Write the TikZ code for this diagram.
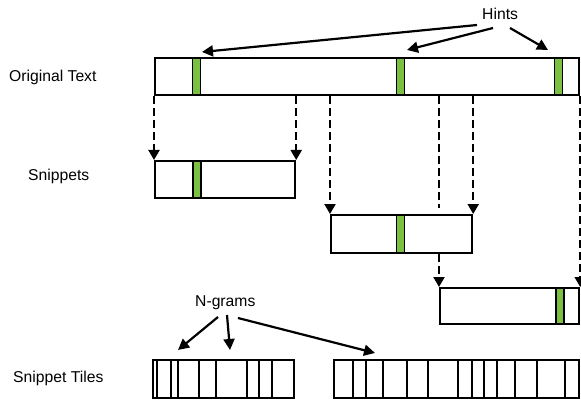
\documentclass[tikz,border=0pt]{standalone}
\usepackage{fontspec}
\setmainfont{Liberation Sans}
\usetikzlibrary{arrows.meta,calc}
\definecolor{hintgreen}{RGB}{122,193,66}
\tikzset{
  lbl/.style={inner sep=0pt, font=\fontsize{15.7}{18}\selectfont, anchor=base west},
  bar/.style={draw=black, line width=2.2pt, fill=white, inner sep=0pt, anchor=north west},
  hint/.style={draw=black, line width=1.8pt, fill=hintgreen, inner sep=0pt, anchor=north west, minimum width=8pt},
  divider/.style={draw=black, line width=2.2pt},
  dasharrow/.style={line width=2.2pt, dash pattern=on 8pt off 4pt, -{Triangle[length=10pt,width=11pt]}},
  dashplain/.style={line width=2.2pt, dash pattern=on 8pt off 4pt},
  pointer/.style={line width=2.2pt, -{Triangle[length=11pt,width=11pt]}}
}
\begin{document}
\begin{tikzpicture}[x=1pt,y=-1pt]
\useasboundingbox (0,0) rectangle (581,401);

% labels
\node[lbl] (lorig) at (9,82) {Original Text};
\node[lbl] (lsnip) at (28,180) {Snippets};
\node[lbl] (ltile) at (13,382) {Snippet Tiles};
\node[lbl] (lgram) at (195,306) {N-grams};
\node[lbl] (lhint) at (482,20) {Hints};

% the full text and its snippets
\node[bar, minimum width=424pt, minimum height=37pt] (orig) at (154,57) {};
\node[bar, minimum width=140pt, minimum height=37pt] (s1) at (154,160) {};
\node[bar, minimum width=141pt, minimum height=38pt] (s2) at (330,214) {};
\node[bar, minimum width=139pt, minimum height=36pt] (s3) at (439,287) {};

% hint markers
\node[hint, minimum height=37pt] (h1) at (191.5,57) {};
\node[hint, minimum height=37pt] (h2) at (395.5,57) {};
\node[hint, minimum height=37pt] (h3) at (553.5,57) {};
\node[hint, minimum height=37pt] (g1) at (192,160) {};
\node[hint, minimum height=38pt] (g2) at (395.5,214) {};
\node[hint, minimum height=36pt] (g3) at (555,287) {};

% snippet extraction
\draw[dasharrow] (s1.north west |- orig.south) -- (s1.north west);
\draw[dasharrow] (s1.north east |- orig.south) -- (s1.north east);
\draw[dasharrow] (s2.north west |- orig.south) -- (s2.north west);
\draw[dasharrow] (s2.north east |- orig.south) -- (s2.north east);
\coordinate (c3top) at (439,208);
\draw[dashplain] (s3.north west |- orig.south) -- (c3top);
\draw[dasharrow] (s3.north west |- s2.south) -- (s3.north west);
\draw[dasharrow] (orig.south east) -- (s3.north east);

% tiles
\node[bar, minimum width=141pt, minimum height=38pt] (t1) at (152,359) {};
\node[bar, minimum width=245pt, minimum height=38pt] (t2) at (333,359) {};
\foreach \x in {157.3,171,177.7,199.3,216,246.7,259.3,271.7}
  \draw[divider] (\x,359) -- (\x,397);
\foreach \x in {353.3,365.7,383.3,407.3,428.3,457.7,472.3,484,497.3,515,536.7,565}
  \draw[divider] (\x,359) -- (\x,397);

% pointers from the hint label
\coordinate (ha) at (202,52);
\coordinate (hb) at (407,50);
\coordinate (hc) at (548,50);
\draw[pointer] (477,25) -- (ha);
\draw[pointer] (493,28) -- (hb);
\draw[pointer] (510,28) -- (hc);

% pointers from the n-gram label
\coordinate (na) at (178,350);
\coordinate (nb) at (230,350);
\coordinate (nc) at (375,353);
\draw[pointer] (218,317) -- (na);
\draw[pointer] (227,315) -- (nb);
\draw[pointer] (238,318) -- (nc);
\end{tikzpicture}
\end{document}
